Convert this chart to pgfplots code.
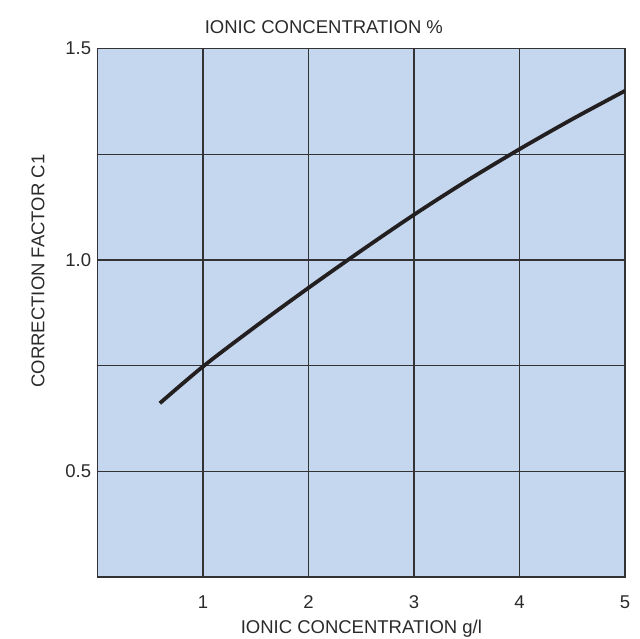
\documentclass[border=0pt]{standalone}
\usepackage{pgfplots}
\pgfplotsset{compat=1.18}
\usepackage{fontspec}
\setmainfont{Liberation Sans}
\definecolor{bgc}{HTML}{C5D7EE}
\definecolor{gridc}{HTML}{333335}
\definecolor{curvec}{HTML}{231F20}
\definecolor{textc}{HTML}{2A2A2A}
\begin{document}
\begin{tikzpicture}
\useasboundingbox (-97.6pt,-62pt) rectangle (542.4pt,577pt);
\begin{axis}[
  at={(0,0)}, anchor=south west,
  scale only axis, width=527.5pt, height=528.5pt,
  xmin=0, xmax=5, ymin=0.25, ymax=1.5,
  xtick={1,2,3,4,5},
  ytick={0.5,0.75,1,1.25,1.5},
  yticklabels={0.5,,1.0,,1.5},
  major tick length=0pt,
  grid=major,
  major grid style={draw=gridc, line width=1.3pt},
  axis line style={draw=gridc, line width=1.3pt},
  axis background/.style={fill=bgc},
  font=\fontsize{18.5}{22}\selectfont,
  /pgf/number format/assume math mode=true,
  xticklabel style={yshift=-15pt, text=textc},
  yticklabel style={xshift=-3pt, text=textc},
  title={IONIC CONCENTRATION \%},
  title style={at={(axis description cs:0.429,1.0284)}, anchor=center, text=textc, inner sep=0pt},
  xlabel={IONIC CONCENTRATION g/l},
  xlabel style={at={(axis description cs:0.5,-0.0984)}, anchor=center, text=textc, inner sep=0pt},
  ylabel={CORRECTION FACTOR C1},
  ylabel style={at={(axis description cs:-0.113,0.579)}, anchor=center, text=textc, inner sep=0pt},
]
\addplot[curvec, line width=3.8pt, smooth] coordinates {
  (0.59,0.661) (1,0.748) (1.5,0.843) (2,0.934) (2.5,1.022) (3,1.107) (3.5,1.187) (4,1.262) (4.5,1.333) (5,1.400)
};
\end{axis}
\end{tikzpicture}
\end{document}
